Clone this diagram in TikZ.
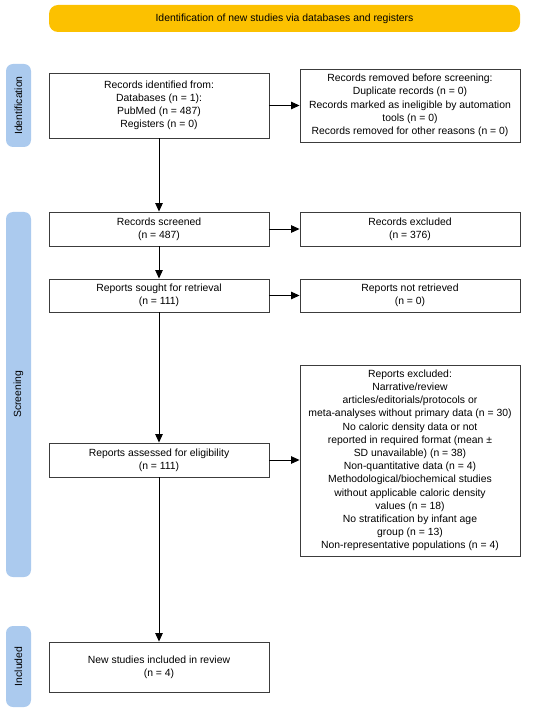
\documentclass[tikz,border=0pt]{standalone}
\usepackage{fontspec}
\setmainfont{Liberation Sans}
\usetikzlibrary{arrows.meta}
\definecolor{prismayellow}{RGB}{252,193,0}
\definecolor{prismablue}{RGB}{171,202,238}
\definecolor{boxline}{RGB}{60,60,60}
\begin{document}
\begin{tikzpicture}[x=1pt,y=-1pt,
  every node/.style={font=\fontsize{10.4}{13.2}\selectfont, inner sep=0pt},
  flowbox/.style={draw=boxline, line width=0.9pt, fill=white, minimum width=220pt, align=center},
  phase/.style={fill=prismablue, rounded corners=7pt, minimum width=25pt},
  phasetext/.style={rotate=90},
  conn/.style={-{Triangle[length=8.5pt,width=7.5pt]}, line width=0.9pt, black}]
\useasboundingbox (0,0) rectangle (550,711);
% header
\node[fill=prismayellow, rounded corners=9pt, minimum width=471pt, minimum height=27pt] (head) at (284.5,18.5) {Identification of new studies via databases and registers};
% phase labels
\node[phase, minimum height=83pt] (pid) at (18.5,105.5) {};
\node[phasetext] (pidt) at (pid.center) {Identification};
\node[phase, minimum height=365pt] (pscr) at (18.5,394.5) {};
\node[phasetext] (pscrt) at (pscr.center) {Screening};
\node[phase, minimum height=81pt] (pinc) at (18.5,666.5) {};
\node[phasetext] (pinct) at (pinc.center) {Included};
% boxes
\node[flowbox, minimum height=65pt] (ident) at (159,105.5) {Records identified from:\\Databases (n = 1):\\PubMed (n = 487)\\Registers (n = 0)};
\node[flowbox, minimum height=73pt] (removed) at (410,105.5) {Records removed before screening:\\Duplicate records (n = 0)\\Records marked as ineligible by automation\\tools (n = 0)\\Records removed for other reasons (n = 0)};
\node[flowbox, minimum height=34pt] (screened) at (159,229) {Records screened\\(n = 487)};
\node[flowbox, minimum height=34pt] (excluded) at (410,229) {Records excluded\\(n = 376)};
\node[flowbox, minimum height=33pt] (sought) at (159,295.5) {Reports sought for retrieval\\(n = 111)};
\node[flowbox, minimum height=33pt] (notret) at (410,295.5) {Reports not retrieved\\(n = 0)};
\node[flowbox, minimum height=34pt] (assessed) at (159,460) {Reports assessed for eligibility\\(n = 111)};
\node[flowbox, minimum height=191pt] (repexcl) at (410,460.5) {Reports excluded:\\Narrative/review\\articles/editorials/protocols or\\meta-analyses without primary data (n = 30)\\No caloric density data or not\\reported in required format (mean ±\\SD unavailable) (n = 38)\\Non-quantitative data (n = 4)\\Methodological/biochemical studies\\without applicable caloric density\\values (n = 18)\\No stratification by infant age\\group (n = 13)\\Non-representative populations (n = 4)};
\node[flowbox, minimum height=50pt] (included) at (159,667) {New studies included in review\\(n = 4)};
% connectors
\draw[conn] (ident) -- (removed);
\draw[conn] (ident) -- (screened);
\draw[conn] (screened) -- (excluded);
\draw[conn] (screened) -- (sought);
\draw[conn] (sought) -- (notret);
\draw[conn] (sought) -- (assessed);
\draw[conn] (assessed) -- (repexcl.west |- assessed);
\draw[conn] (assessed) -- (included);
\end{tikzpicture}
\end{document}
